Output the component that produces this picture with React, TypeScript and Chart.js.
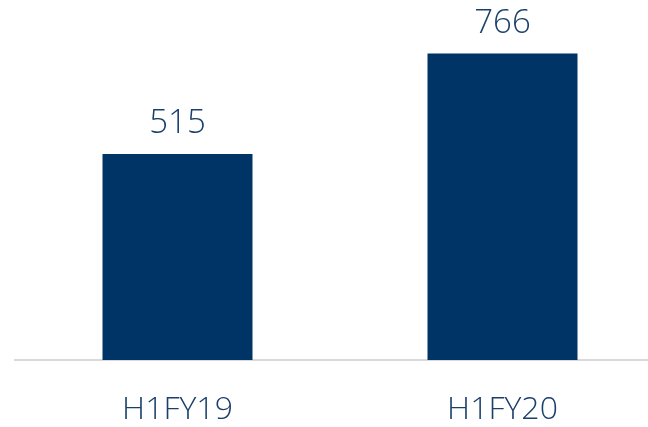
import React, { useEffect, useRef } from "react";
import { Chart, registerables } from "chart.js";

Chart.register(...registerables);

const categories = ["H1FY19", "H1FY20"];
const values = [515, 766];

const BAR_COLOR = "#003366";
const TEXT_COLOR = "#1B3F6B";
const FONT = "'Open Sans', sans-serif";

// the plot runs a little past the right edge of the picture
const CANVAS_W = 665;
const CANVAS_H = 427;

const valueLabels = {
  id: "valueLabels",
  afterDatasetsDraw(chart: any) {
    const ctx = chart.ctx;
    const meta = chart.getDatasetMeta(0);
    ctx.save();
    ctx.fillStyle = TEXT_COLOR;
    ctx.font = `300 33px ${FONT}`;
    ctx.textAlign = "center";
    ctx.textBaseline = "alphabetic";
    meta.data.forEach((bar: any, i: number) => {
      ctx.fillText(String(values[i]), bar.x, bar.y - 21);
    });
    ctx.restore();
  },
};

export default function App() {
  const ref = useRef<HTMLCanvasElement>(null);
  useEffect(() => {
    const chart = new Chart(ref.current!, {
      type: "bar",
      data: {
        labels: categories,
        datasets: [
          {
            data: values,
            backgroundColor: BAR_COLOR,
            barPercentage: 0.4615,
            categoryPercentage: 1,
          },
        ],
      },
      options: {
        animation: false,
        responsive: false,
        maintainAspectRatio: false,
        layout: { padding: { left: 15, right: 0, top: 0, bottom: 0 } },
        plugins: { legend: { display: false }, tooltip: { enabled: false } },
        scales: {
          x: {
            grid: { display: false, drawTicks: false },
            border: { display: true, color: "#D9D9D9", width: 2 },
            ticks: {
              color: TEXT_COLOR,
              font: { family: FONT, size: 32, weight: "300" as any },
              padding: 31,
              autoSkip: false,
              maxRotation: 0,
            },
            afterFit(scale: any) {
              scale.height = 67;
            },
          },
          y: {
            display: false,
            min: 0,
            max: 900,
          },
        },
      },
      plugins: [valueLabels],
    });
    return () => chart.destroy();
  }, []);
  return (
    <div
      style={{
        position: "fixed",
        left: 0,
        top: 0,
        width: 648,
        height: 427,
        overflow: "hidden",
        background: "#fff",
      }}
    >
      <canvas
        ref={ref}
        width={CANVAS_W}
        height={CANVAS_H}
        style={{ width: CANVAS_W, height: CANVAS_H, display: "block" }}
      />
    </div>
  );
}
